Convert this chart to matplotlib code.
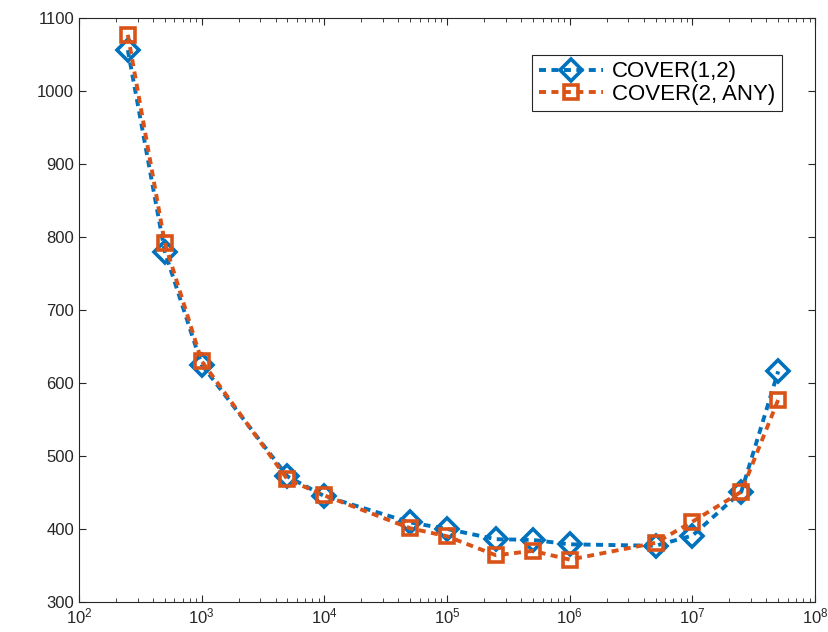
import matplotlib
matplotlib.use("Agg")
import matplotlib.pyplot as plt
from matplotlib.ticker import LogLocator, NullFormatter

# ─── Data ─────────────────────────────────────────────
sizes = [250, 500, 1e3, 5e3, 1e4, 5e4, 1e5, 2.5e5, 5e5, 1e6, 5e6, 1e7, 2.5e7, 5e7]
cover_12 = [1056, 780, 625, 472, 445, 409, 400, 386, 385, 379, 377, 391, 451, 616]
cover_2any = [1077, 792, 630, 468, 446, 401, 390, 364, 370, 358, 381, 410, 451, 577]

BLUE = "#0072BD"
ORANGE = "#D95319"

plt.rcParams["font.family"] = ["Liberation Sans", "DejaVu Sans"]

fig = plt.figure(figsize=(8.29, 6.32), dpi=100)
ax = fig.add_axes([0.0953, 0.0475, 0.888, 0.924])

ax.plot(sizes, cover_12, color=BLUE, linestyle=(0, (1.8, 1.4)), linewidth=2.8,
        marker="D", markersize=11, markerfacecolor="none", markeredgewidth=2.6,
        label="COVER(1,2)")
ax.plot(sizes, cover_2any, color=ORANGE, linestyle=(0, (1.8, 1.4)), linewidth=2.8,
        marker="s", markersize=10, markerfacecolor="none", markeredgewidth=2.6,
        label="COVER(2, ANY)")

ax.set_xscale("log")
ax.set_xlim(1e2, 1e8)
ax.set_ylim(300, 1100)
ax.set_yticks(range(300, 1101, 100))
ax.xaxis.set_major_locator(LogLocator(base=10, numticks=10))
ax.xaxis.set_minor_locator(LogLocator(base=10, subs=range(2, 10), numticks=100))
ax.xaxis.set_minor_formatter(NullFormatter())

ax.tick_params(which="both", direction="in", top=True, right=True,
               labelsize=12, colors="#262626")
ax.tick_params(which="major", length=5)
ax.tick_params(which="minor", length=3)
for spine in ax.spines.values():
    spine.set_color("#262626")
    spine.set_linewidth(0.8)

leg = ax.legend(loc="upper right", bbox_to_anchor=(0.97, 0.956), fontsize=16,
                fancybox=False, edgecolor="#262626", framealpha=1,
                handlelength=2.9, borderpad=0.3, labelspacing=0.05,
                handletextpad=0.4)
leg.get_frame().set_linewidth(0.8)

fig.savefig("out.png", dpi=100)
